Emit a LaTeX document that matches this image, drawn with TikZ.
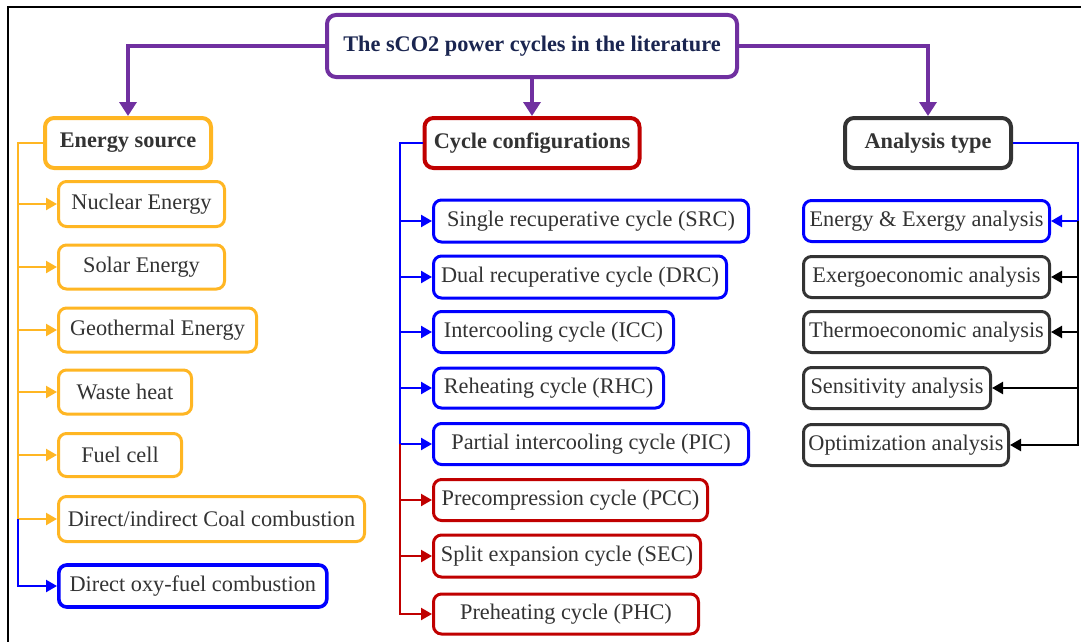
\documentclass[tikz,border=0pt]{standalone}
\usepackage{fontspec}
\setmainfont{Liberation Serif}
\usetikzlibrary{arrows.meta}
\definecolor{cpurple}{HTML}{7030A0}
\definecolor{corange}{HTML}{FFB623}
\definecolor{cred}{HTML}{C00000}
\definecolor{cblue}{HTML}{0000FF}
\definecolor{cdark}{HTML}{333333}
\definecolor{cnavy}{HTML}{1A2550}
\begin{document}
\begin{tikzpicture}[x=1pt,y=-1pt,
  every node/.style={font=\fontsize{22.3}{24}\selectfont, text=cdark, inner sep=0pt},
  box/.style={draw, rounded corners=8pt, line width=3pt, anchor=west, fill=white},
  headbox/.style={draw, rounded corners=9pt, line width=4pt, anchor=center, fill=white, font=\fontsize{22.3}{24}\selectfont\bfseries},
  conn/.style={line width=2.3pt},
  tip/.style={conn, -{Triangle[length=11pt,width=12pt]}},
  ptip/.style={line width=3.4pt, cpurple, -{Triangle[length=14pt,width=17pt]}}
]
\useasboundingbox (0,0) rectangle (1081,642);
% frame
\draw[line width=1.8pt, black] (8,642) -- (8,7) -- (1081,7);

% heading boxes
\node[headbox, draw=cpurple, text=cnavy, minimum width=410pt, minimum height=62pt] (title) at (532,46) {The sCO2 power cycles in the literature};
\node[headbox, draw=corange, minimum width=166pt, minimum height=50pt] (es) at (128,143) {Energy source};
\node[headbox, draw=cred, minimum width=215pt, minimum height=50pt] (cc) at (532,143) {Cycle configurations};
\node[headbox, draw=cdark, minimum width=166pt, minimum height=50pt] (at) at (928,143) {Analysis type};

% left column
\node[box, draw=corange, minimum width=166pt, minimum height=45pt] (nuc) at (57,204) {Nuclear Energy};
\node[box, draw=corange, minimum width=166pt, minimum height=44pt] (sol) at (57,267) {Solar Energy};
\node[box, draw=corange, minimum width=198pt, minimum height=44pt] (geo) at (57,330) {Geothermal Energy};
\node[box, draw=corange, minimum width=133pt, minimum height=44pt] (was) at (57,392) {Waste heat};
\node[box, draw=corange, minimum width=123pt, minimum height=43pt] (fue) at (57,455) {Fuel cell};
\node[box, draw=corange, minimum width=306pt, minimum height=45pt] (coa) at (57,519) {Direct/indirect Coal combustion};
\node[box, draw=cblue, line width=3.6pt, minimum width=268pt, minimum height=42pt] (oxy) at (57,586) {Direct oxy-fuel combustion};

% middle column
\node[box, draw=cblue, minimum width=315pt, minimum height=42pt] (src) at (432,221) {Single recuperative cycle (SRC)};
\node[box, draw=cblue, minimum width=293pt, minimum height=42pt] (drc) at (432,277) {Dual recuperative cycle (DRC)};
\node[box, draw=cblue, minimum width=240pt, minimum height=41pt] (icc) at (432,332) {Intercooling cycle (ICC)};
\node[box, draw=cblue, minimum width=230pt, minimum height=40pt] (rhc) at (432,388) {Reheating cycle (RHC)};
\node[box, draw=cblue, minimum width=315pt, minimum height=41pt] (pic) at (432,444) {Partial intercooling cycle (PIC)};
\node[box, draw=cred, minimum width=274pt, minimum height=41pt] (pcc) at (432,500) {Precompression cycle (PCC)};
\node[box, draw=cred, minimum width=267pt, minimum height=42pt] (sec) at (432,556) {Split expansion cycle (SEC)};
\node[box, draw=cred, minimum width=265pt, minimum height=40pt] (phc) at (432,614) {Preheating cycle (PHC)};

% right column
\node[box, draw=cblue, minimum width=246pt, minimum height=41pt] (ee) at (802,221) {Energy \& Exergy analysis};
\node[box, draw=cdark, minimum width=246pt, minimum height=41pt] (exe) at (802,277) {Exergoeconomic analysis};
\node[box, draw=cdark, minimum width=246pt, minimum height=41pt] (the) at (802,332) {Thermoeconomic analysis};
\node[box, draw=cdark, minimum width=187pt, minimum height=41pt] (sen) at (802,388) {Sensitivity analysis};
\node[box, draw=cdark, minimum width=205pt, minimum height=41pt] (opt) at (802,445) {Optimization analysis};

% bus coordinates
\coordinate (lb) at (18,519);
\coordinate (mb) at (400,444);
\coordinate (rb) at (1078,221);

% purple connectors
\draw[ptip] (title.west) -| (es.north);
\draw[ptip] (title.south) -- (cc.north);
\draw[ptip] (title.east) -| (at.north);

% left connectors
\draw[conn, corange] (es.west) -| (lb);
\foreach \n in {nuc,sol,geo,was,fue,coa}
  \draw[tip, corange] (\n.west -| lb) -- (\n.west);
\draw[tip, cblue] (lb) |- (oxy.west);

% middle connectors
\draw[conn, cblue] (cc.west) -| (mb);
\foreach \n in {src,drc,icc,rhc,pic}
  \draw[tip, cblue] (\n.west -| mb) -- (\n.west);
\foreach \n in {pcc,sec}
  \draw[tip, cred] (\n.west -| mb) -- (\n.west);
\draw[tip, cred] (mb) |- (phc.west);

% right connectors
\draw[conn, cblue] (at.east) -| (rb);
\draw[tip, cblue] (rb) -- (ee.east);
\foreach \n in {exe,the,sen}
  \draw[tip, black] (\n.east -| rb) -- (\n.east);
\draw[tip, black] (rb) |- (opt.east);
\end{tikzpicture}
\end{document}
